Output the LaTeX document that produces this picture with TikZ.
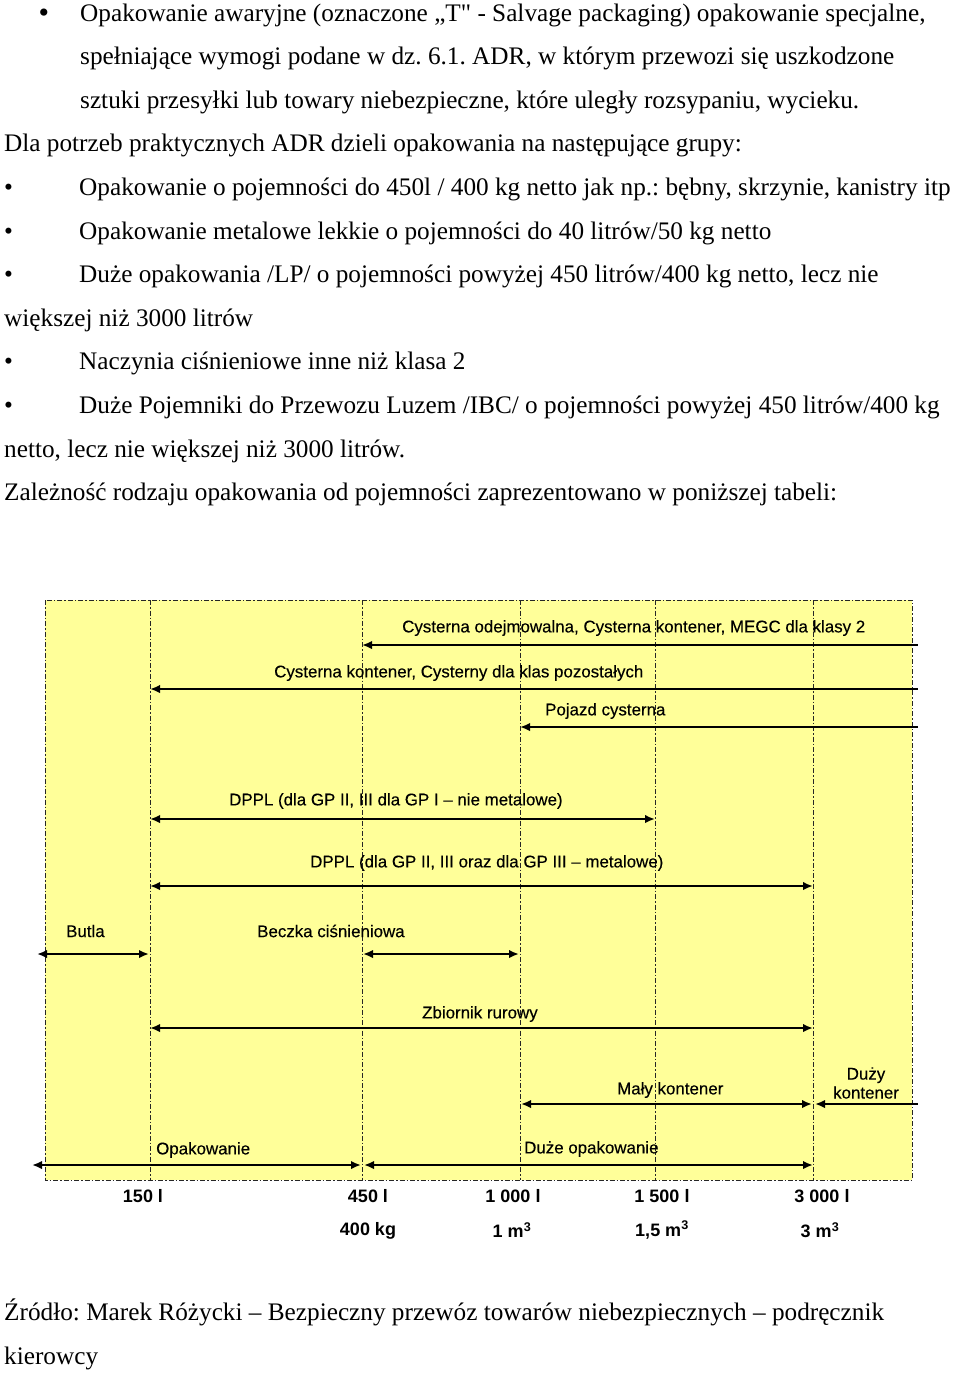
\documentclass[tikz,border=0pt]{standalone}
\usepackage{fontspec}
\setmainfont{Liberation Serif}[Ligatures=TeXOff]
\newfontfamily\chartfont{Liberation Sans}[FakeBold=0.25]
\newfontfamily\axisfont{Liberation Sans Bold}
\usetikzlibrary{arrows.meta}
\definecolor{chartyellow}{RGB}{255,255,153}
\frenchspacing
\begin{document}
\begin{tikzpicture}[x=1pt,y=-1pt,
  body/.style={anchor=base west, inner sep=0pt, font=\frenchspacing\fontsize{25.25}{25.25}\selectfont},
  lbl/.style={anchor=west, inner sep=0pt, font=\chartfont\fontsize{16.9}{16.9}\selectfont},
  axislbl/.style={anchor=center, inner sep=0pt, font=\axisfont\fontsize{18}{18}\selectfont},
  guide/.style={line width=0.9pt, dash pattern=on 5pt off 2pt on 1.5pt off 2pt, black!85},
  span/.style={line width=2.6pt, black},
  >={Latex[length=10pt,width=8.5pt]}
]
\useasboundingbox (0,0) rectangle (960,1373);
\fill[white] (0,0) rectangle (960,1373);

% ---- body text ----
\node[anchor=base, inner sep=0pt, font=\fontsize{30}{30}\selectfont] (b0) at (44,23) {•};
\node[body] (t1) at (80,21) {Opakowanie awaryjne (oznaczone „T" - Salvage packaging) opakowanie specjalne,};
\node[body] (t2) at (80,64.6) {spełniające wymogi podane w dz. 6.1. ADR, w którym przewozi się uszkodzone};
\node[body] (t3) at (80,108.2) {sztuki przesyłki lub towary niebezpieczne, które uległy rozsypaniu, wycieku.};
\node[body] (t4) at (4,151.8) {Dla potrzeb praktycznych ADR dzieli opakowania na następujące grupy:};
\node[body] (b5) at (4,195.4) {•};
\node[body] (t5) at (79,195.4) {Opakowanie o pojemności do 450l / 400 kg netto jak np.: bębny, skrzynie, kanistry itp};
\node[body] (b6) at (4,239) {•};
\node[body] (t6) at (79,239) {Opakowanie metalowe lekkie o pojemności do 40 litrów/50 kg netto};
\node[body] (b7) at (4,282.6) {•};
\node[body] (t7) at (79,282.6) {Duże opakowania /LP/ o pojemności powyżej 450 litrów/400 kg netto, lecz nie};
\node[body] (t8) at (4,326.2) {większej niż 3000 litrów};
\node[body] (b9) at (4,369.8) {•};
\node[body] (t9) at (79,369.8) {Naczynia ciśnieniowe inne niż klasa 2};
\node[body] (b10) at (4,413.4) {•};
\node[body] (t10) at (79,413.4) {Duże Pojemniki do Przewozu Luzem /IBC/ o pojemności powyżej 450 litrów/400 kg};
\node[body] (t11) at (4,457) {netto, lecz nie większej niż 3000 litrów.};
\node[body] (t12) at (4,500.6) {Zależność rodzaju opakowania od pojemności zaprezentowano w poniższej tabeli:};
\node[body] (s1) at (4,1320) {Źródło: Marek Różycki – Bezpieczny przewóz towarów niebezpiecznych – podręcznik};
\node[body] (s2) at (4,1364) {kierowcy};

% ---- chart background and guides ----
\fill[chartyellow] (45,600) rectangle (912,1180);
\draw[guide] (45,600) rectangle (912,1180);
\foreach \gx in {150,362,520,655,813} {
  \draw[guide] (\gx,600) -- (\gx,1180);
}

% ---- labels ----
\node[lbl] (c1) at (402,628) {Cysterna odejmowalna, Cysterna kontener, MEGC dla klasy 2};
\node[lbl] (c2) at (274,673) {Cysterna kontener, Cysterny dla klas pozostałych};
\node[lbl] (c3) at (545,711) {Pojazd cysterna};
\node[lbl] (c4) at (229,801) {DPPL (dla GP II, III dla GP I – nie metalowe)};
\node[lbl] (c5) at (310,863) {DPPL (dla GP II, III oraz dla GP III – metalowe)};
\node[lbl] (c6) at (66,931) {Butla};
\node[lbl] (c7) at (257,931) {Beczka ciśnieniowa};
\node[lbl] (c8) at (422,1014) {Zbiornik rurowy};
\node[lbl] (c9) at (617,1090) {Mały kontener};
\node[lbl, anchor=center, align=center, font=\chartfont\fontsize{16.9}{19}\selectfont] (c10) at (866,1083) {Duży\\kontener};
\node[lbl] (c11) at (156,1150) {Opakowanie};
\node[lbl] (c12) at (524,1149) {Duże opakowanie};

% ---- axis labels ----
\node[axislbl] (x1) at (143,1196) {150 l};
\node[axislbl] (x2) at (368,1196) {450 l};
\node[axislbl] (x3) at (513,1196) {1 000 l};
\node[axislbl] (x4) at (662,1196) {1 500 l};
\node[axislbl] (x5) at (822,1196) {3 000 l};
\node[axislbl] (m2) at (368,1231) {400 kg};
\node[axislbl] (m3) at (512,1230) {1 m\textsuperscript{3}};
\node[axislbl] (m4) at (662,1230) {1,5 m\textsuperscript{3}};
\node[axislbl] (m5) at (820,1230) {3 m\textsuperscript{3}};

% ---- arrow endpoints ----
\coordinate (a1l) at (362,645);  \coordinate (a1r) at (918,645);
\coordinate (a2l) at (150,689);  \coordinate (a2r) at (918,689);
\coordinate (a3l) at (520,727);  \coordinate (a3r) at (918,727);
\coordinate (a4l) at (150,819);  \coordinate (a4r) at (655,819);
\coordinate (a5l) at (150,886);  \coordinate (a5r) at (813,886);
\coordinate (a6l) at (37,954);   \coordinate (a6r) at (149,954);
\coordinate (a7l) at (363,954);  \coordinate (a7r) at (519,954);
\coordinate (a8l) at (150,1028); \coordinate (a8r) at (813,1028);
\coordinate (a9l) at (521,1104); \coordinate (a9r) at (812,1104);
\coordinate (a10l) at (815,1104); \coordinate (a10r) at (918,1104);
\coordinate (a11l) at (32,1165); \coordinate (a11r) at (361,1165);
\coordinate (a12l) at (364,1165); \coordinate (a12r) at (813,1165);

% ---- arrows ----
\draw[span,<-] (a1l) -- (a1r);
\draw[span,<-] (a2l) -- (a2r);
\draw[span,<-] (a3l) -- (a3r);
\draw[span,<->] (a4l) -- (a4r);
\draw[span,<->] (a5l) -- (a5r);
\draw[span,<->] (a6l) -- (a6r);
\draw[span,<->] (a7l) -- (a7r);
\draw[span,<->] (a8l) -- (a8r);
\draw[span,<->] (a9l) -- (a9r);
\draw[span,<-] (a10l) -- (a10r);
\draw[span,<->] (a11l) -- (a11r);
\draw[span,<->] (a12l) -- (a12r);
\end{tikzpicture}
\end{document}
